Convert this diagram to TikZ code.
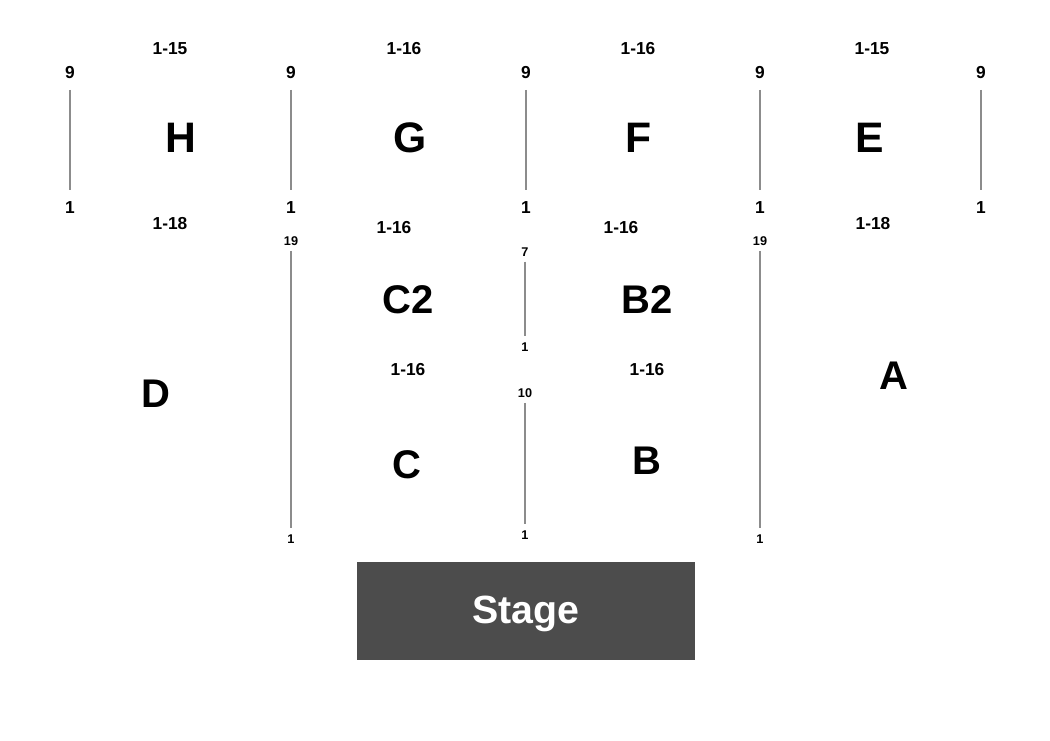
\documentclass[tikz,border=0pt]{standalone}
\usepackage{fontspec}
\setmainfont{Liberation Sans}
\begin{document}
\begin{tikzpicture}[x=0.75pt,y=-0.75pt,
    rownum/.style={font=\fontsize{13}{13}\selectfont\bfseries,inner sep=0pt},
    smallnum/.style={font=\fontsize{9.5}{9.5}\selectfont\bfseries,inner sep=0pt},
    seats/.style={font=\fontsize{13}{13}\selectfont\bfseries,inner sep=0pt},
    bigsec/.style={font=\fontsize{32}{32}\selectfont\bfseries,inner sep=0pt},
    sec/.style={font=\fontsize{30}{30}\selectfont\bfseries,inner sep=0pt},
    aisle/.style={draw=black!45,line width=0.9pt,shorten <=7.9pt,shorten >=8.6pt},
    smallaisle/.style={draw=black!45,line width=0.9pt,shorten <=3.8pt,shorten >=4.9pt}]
        \useasboundingbox (0,0) rectangle (1050,740);
        %% Upper aisles
        \foreach \i/\x in {1/70,2/291,3/526,4/760,5/981} {
            \node[rownum] (t\i) at (\x,73) {9};
            \node[rownum] (b\i) at (\x,208) {1};
            \draw[aisle] (t\i) -- (b\i);
        }
        %% Upper sections
        \node[seats] (hTop) at (170,49) {1-15};
        \node[seats] (gTop) at (404,49) {1-16};
        \node[seats] (fTop) at (638,49) {1-16};
        \node[seats] (eTop) at (872,49) {1-15};
        \node[bigsec] (H) at (181,138) {H};
        \node[bigsec] (G) at (410,138) {G};
        \node[bigsec] (F) at (639,138) {F};
        \node[bigsec] (E) at (870,138) {E};
        %% Lower aisles
        \node[smallnum] (cTop) at (291,241) {19};
        \node[smallnum] (cBot) at (291,539) {1};
        \draw[smallaisle] (cTop) -- (cBot);
        \node[smallnum] (aTop) at (760,241) {19};
        \node[smallnum] (aBot) at (760,539) {1};
        \draw[smallaisle] (aTop) -- (aBot);
        \node[smallnum] (midTop) at (525,252) {7};
        \node[smallnum] (midBot) at (525,347) {1};
        \draw[smallaisle] (midTop) -- (midBot);
        \node[smallnum] (frontTop) at (525,393) {10};
        \node[smallnum] (frontBot) at (525,535) {1};
        \draw[smallaisle] (frontTop) -- (frontBot);
        %% Lower sections
        \node[seats] (dSeats) at (170,224) {1-18};
        \node[seats] (ctwoSeats) at (394,228) {1-16};
        \node[seats] (btwoSeats) at (621,228) {1-16};
        \node[seats] (aSeats) at (873,224) {1-18};
        \node[seats] (cSeats) at (408,370) {1-16};
        \node[seats] (bSeats) at (647,370) {1-16};
        \node[sec] (C2) at (408,300) {C2};
        \node[sec] (B2) at (647,300) {B2};
        \node[sec] (C) at (407,465) {C};
        \node[sec] (B) at (647,461) {B};
        \node[sec] (D) at (156,394) {D};
        \node[sec] (A) at (894,376) {A};
        %% Stage
        \fill[black!70] (357,562) rectangle (695,660);
        \node[sec,text=white,font=\fontsize{29.5}{29.5}\selectfont\bfseries] (stage) at (526,614) {Stage};
    \end{tikzpicture}
\end{document}
